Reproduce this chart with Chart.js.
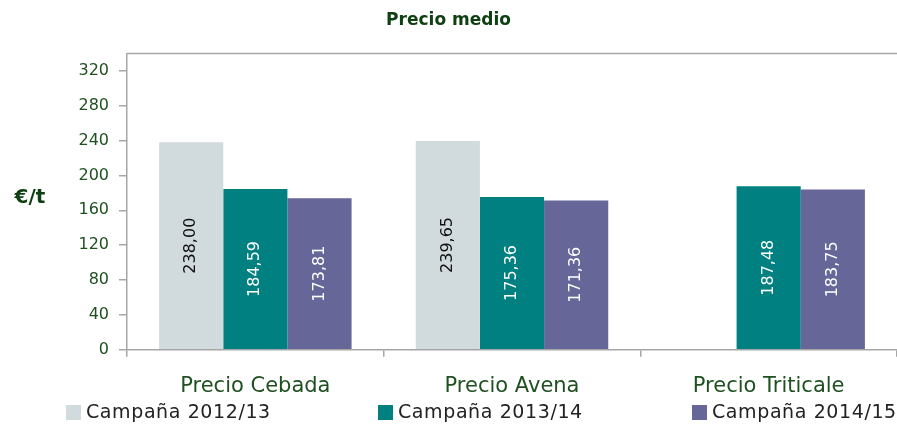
<!DOCTYPE html>
<html>
<head>
<meta charset="utf-8">
<script src="https://cdn.jsdelivr.net/npm/chart.js@4"></script>
<style>
  html, body { margin: 0; padding: 0; background: #fff; }
  #wrap { width: 897px; height: 426px; position: relative; }
</style>
</head>
<body>
<div id="wrap"><canvas id="precioChart"></canvas></div>
<script>
const categories = ['Precio Cebada', 'Precio Avena', 'Precio Triticale'];
const campaigns = ['Campaña 2012/13', 'Campaña 2013/14', 'Campaña 2014/15'];
const values2012 = [238.00, 239.65, null];
const values2013 = [184.59, 175.36, 187.48];
const values2014 = [173.81, 171.36, 183.75];
const yTicks = [0, 40, 80, 120, 160, 200, 240, 280, 320];

const colors = ['#D1DBDD', '#008080', '#666699'];
const labelColors = ['#111111', '#ffffff', '#ffffff'];
const green = '#1E5020';
const axisGray = '#A6A6A6';
const font = 'DejaVu Sans';
const legendX = [66, 378, 692];

// rotated value labels inside bars, y-axis unit, top frame line and legend
const extras = {
    id: 'extras',
    afterDatasetsDraw(chart) {
        const ctx = chart.ctx;
        const area = chart.chartArea;
        ctx.save();
        ctx.strokeStyle = axisGray;
        ctx.lineWidth = 1.5;
        ctx.beginPath();
        ctx.moveTo(area.left, area.top);
        ctx.lineTo(area.right, area.top);
        ctx.stroke();

        ctx.font = '16px "' + font + '"';
        ctx.textAlign = 'center';
        ctx.textBaseline = 'middle';
        chart.data.datasets.forEach((ds, i) => {
            chart.getDatasetMeta(i).data.forEach((bar, j) => {
                const v = ds.data[j];
                if (v === null) return;
                ctx.save();
                ctx.translate(bar.x, (bar.y + bar.base) / 2);
                ctx.rotate(-Math.PI / 2);
                ctx.fillStyle = labelColors[i];
                ctx.fillText(v.toFixed(2).replace('.', ','), 0, 0);
                ctx.restore();
            });
        });

        ctx.font = 'bold 20px "' + font + '"';
        ctx.fillStyle = '#0F4012';
        ctx.textAlign = 'center';
        ctx.fillText('€/t', 30, 198);

        // legend
        ctx.font = '19px "' + font + '"';
        ctx.letterSpacing = '0.6px';
        ctx.textAlign = 'left';
        chart.data.datasets.forEach((ds, i) => {
            const x = legendX[i];
            ctx.fillStyle = ds.backgroundColor;
            ctx.fillRect(x, 405, 15, 15);
            ctx.fillStyle = '#222';
            ctx.fillText(ds.label, x + 20, 413);
        });
        ctx.restore();
    }
};

const ctx = document.getElementById('precioChart').getContext('2d');
const precioChart = new Chart(ctx, {
    type: 'bar',
    data: {
        labels: categories,
        datasets: [
            { label: campaigns[0], data: values2012, backgroundColor: colors[0] },
            { label: campaigns[1], data: values2013, backgroundColor: colors[1] },
            { label: campaigns[2], data: values2014, backgroundColor: colors[2] }
        ]
    },
    options: {
        responsive: true,
        maintainAspectRatio: false,
        animation: false,
        datasets: {
            bar: { barPercentage: 1.0, categoryPercentage: 0.75 }
        },
        layout: { padding: { left: 0, right: 0, top: 0, bottom: 10 } },
        scales: {
            x: {
                grid: { display: true, drawOnChartArea: false, drawTicks: true, tickLength: 7, color: axisGray, lineWidth: 1.5 },
                border: { display: true, color: axisGray, width: 1.5 },
                ticks: { color: green, font: { family: font, size: 21 }, padding: 17 }
            },
            y: {
                min: 0,
                max: 340,
                afterBuildTicks(scale) {
                    scale.ticks = yTicks.map(v => ({ value: v }));
                },
                afterFit(scale) { scale.width = 127; },
                grid: { display: true, drawOnChartArea: false, drawTicks: true, tickLength: 8, color: axisGray, lineWidth: 1.5 },
                border: { display: true, color: axisGray, width: 1.5 },
                ticks: { color: green, font: { family: font, size: 16 }, padding: 10, autoSkip: false }
            }
        },
        plugins: {
            title: {
                display: true,
                text: 'Precio medio',
                color: '#0F4012',
                font: { family: font, size: 17, weight: 'bold' },
                padding: { top: 10, bottom: 23 }
            },
            legend: { display: false },
            tooltip: { enabled: false }
        }
    },
    plugins: [extras]
});
</script>
</body>
</html>
